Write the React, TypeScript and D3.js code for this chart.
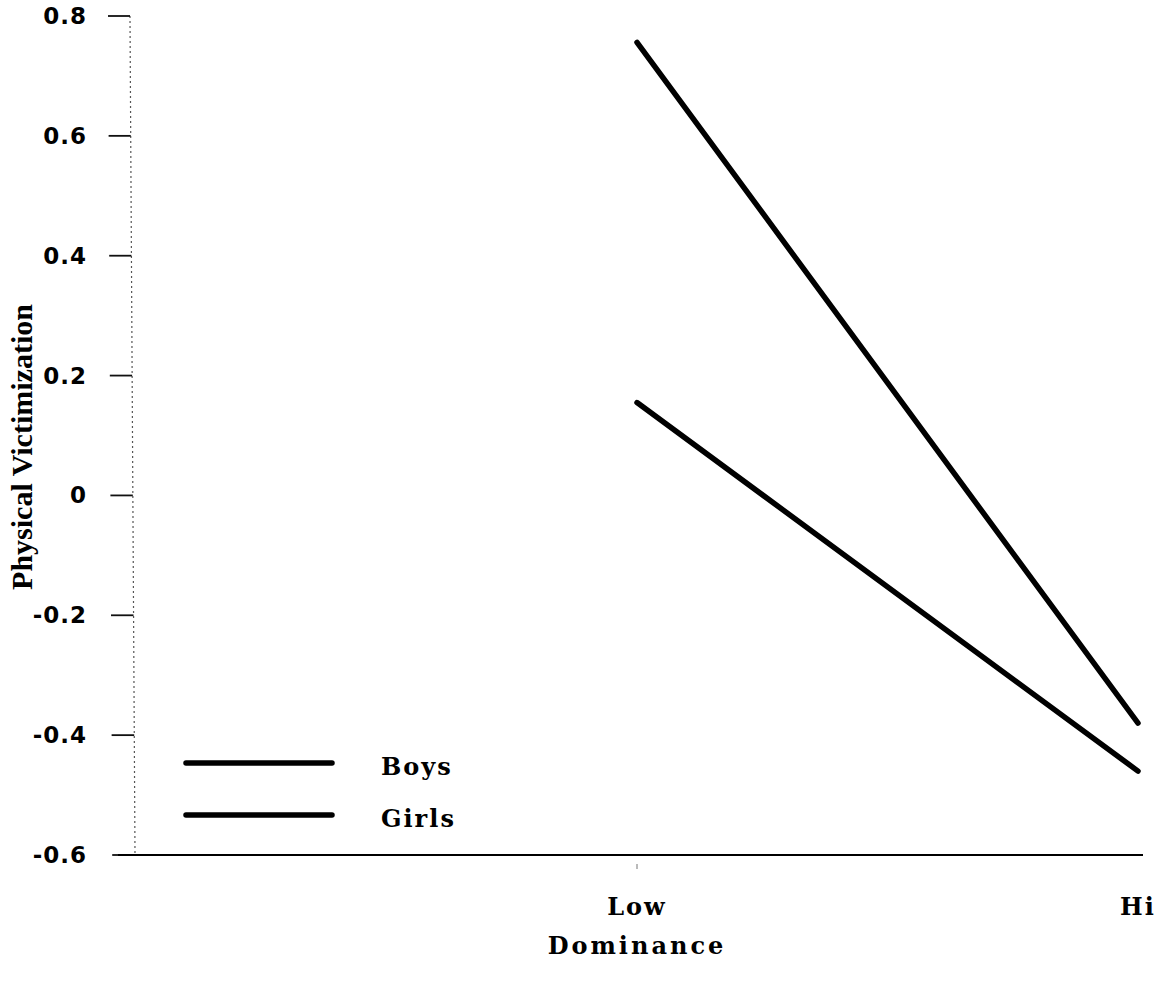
import React, {useEffect, useRef} from 'react';
import * as d3 from 'd3';

// Dominance levels on the x axis (first slot is the empty axis origin)
const dominanceLevels = ['', 'Low', 'Hi'];

// Physical victimization values at Low / Hi dominance
const seriesNames = ['Boys', 'Girls'];
const boysValues = [0.756, -0.38];
const girlsValues = [0.155, -0.46];

// Y axis ticks
const yTicks = [0.8, 0.6, 0.4, 0.2, 0, -0.2, -0.4, -0.6];
const yTickLabels = ['0.8', '0.6', '0.4', '0.2', '0', '-0.2', '-0.4', '-0.6'];

const svgWidth = 1160,
    svgHeight = 986;

const titleSerif = '"Liberation Serif", "Times New Roman", serif';
const wideSerif = '"DejaVu Serif", serif';
const sans = '"DejaVu Sans", sans-serif';

export default function App() {
    const svgRef = useRef<SVGSVGElement>(null);

    useEffect(() => {
        const svg = d3.select(svgRef.current);
        svg.selectAll('*').remove();

        const x = d3.scalePoint<string>()
            .domain(dominanceLevels)
            .range([136, 1138]);

        const y = d3.scaleLinear()
            .domain([-0.6, 0.8])
            .range([855, 16]);

        // Y axis: faint dotted line with ticks on the left
        svg.append('line')
            .attr('x1', 130).attr('x2', 135)
            .attr('y1', y(0.8)).attr('y2', y(-0.6))
            .attr('stroke', '#555')
            .attr('stroke-width', 1.2)
            .attr('stroke-dasharray', '2,3');

        const yAxis = svg.append('g');
        yAxis.selectAll('line.tick')
            .data(yTicks)
            .enter()
            .append('line')
            .attr('x1', (d, i) => 108 + i * 0.6)
            .attr('x2', (d, i) => 130 + i * 0.7)
            .attr('y1', d => y(d))
            .attr('y2', d => y(d))
            .attr('stroke', '#111')
            .attr('stroke-width', 1.8);

        yAxis.selectAll('text.tick')
            .data(yTicks)
            .enter()
            .append('text')
            .attr('x', 87)
            .attr('y', d => y(d) + 8)
            .attr('text-anchor', 'end')
            .style('font-family', sans)
            .style('font-weight', 'bold')
            .style('font-size', '23px')
            .style('letter-spacing', '1px')
            .attr('fill', '#000')
            .text((d, i) => yTickLabels[i]);

        // Y axis title
        svg.append('text')
            .attr('transform', `translate(32,${447}) rotate(-90)`)
            .attr('text-anchor', 'middle')
            .style('font-family', titleSerif)
            .style('font-weight', 'bold')
            .style('font-size', '30px')
            .attr('fill', '#000')
            .text('Physical Victimization');

        // X axis: solid line along the bottom
        svg.append('line')
            .attr('x1', 118).attr('x2', 1143)
            .attr('y1', y(-0.6)).attr('y2', y(-0.6))
            .attr('stroke', '#000')
            .attr('stroke-width', 2);

        svg.append('line')
            .attr('x1', x('Low')).attr('x2', x('Low'))
            .attr('y1', y(-0.6) + 9).attr('y2', y(-0.6) + 14)
            .attr('stroke', '#777')
            .attr('stroke-width', 1);

        svg.selectAll('text.xlabel')
            .data(dominanceLevels.slice(1))
            .enter()
            .append('text')
            .attr('x', d => x(d) as number)
            .attr('y', 915)
            .attr('text-anchor', 'middle')
            .style('font-family', wideSerif)
            .style('font-weight', 'bold')
            .style('font-size', '24px')
            .style('letter-spacing', '2px')
            .attr('fill', '#000')
            .text(d => d);

        svg.append('text')
            .attr('x', x('Low') as number)
            .attr('y', 954)
            .attr('text-anchor', 'middle')
            .style('font-family', wideSerif)
            .style('font-weight', 'bold')
            .style('font-size', '24px')
            .style('letter-spacing', '3px')
            .attr('fill', '#000')
            .text('Dominance');

        // Series lines
        const line = d3.line<number>()
            .x((d, i) => x(dominanceLevels[i + 1]) as number)
            .y(d => y(d));

        [boysValues, girlsValues].forEach(values => {
            svg.append('path')
                .datum(values)
                .attr('d', line)
                .attr('stroke', '#000')
                .attr('stroke-width', 5.5)
                .attr('stroke-linecap', 'round')
                .attr('fill', 'none');
        });

        // Legend
        const legendY = [763, 815];
        seriesNames.forEach((name, i) => {
            svg.append('line')
                .attr('x1', 186).attr('x2', 332)
                .attr('y1', legendY[i]).attr('y2', legendY[i])
                .attr('stroke', '#000')
                .attr('stroke-width', 5.5)
                .attr('stroke-linecap', 'round');
            svg.append('text')
                .attr('x', 381)
                .attr('y', legendY[i] + 12)
                .style('font-family', wideSerif)
                .style('font-weight', 'bold')
                .style('font-size', '24px')
                .style('letter-spacing', '2px')
                .attr('fill', '#000')
                .text(name);
        });
    });

    return (
        <div style={{position: 'absolute', left: 0, top: 0}}>
            <svg ref={svgRef} width={svgWidth} height={svgHeight} style={{display: 'block', background: '#fff'}}/>
        </div>
    );
}
